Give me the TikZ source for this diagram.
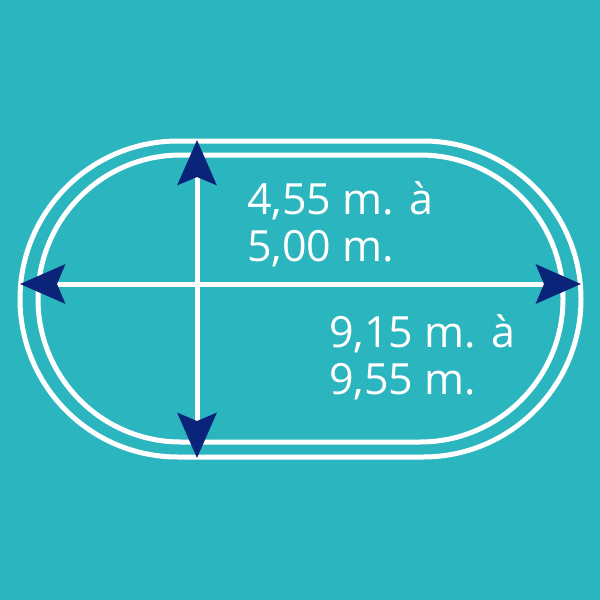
\documentclass[tikz,border=0pt]{standalone}
\usepackage{fontspec}
\setmainfont{Open Sans}
\usetikzlibrary{arrows.meta}
\definecolor{bgteal}{RGB}{43,181,191}
\definecolor{navyarrow}{RGB}{10,36,122}
\tikzset{
  track/.style={draw=white, line width=5pt},
  dimarrow/.style={draw=white, line width=5pt,
    {Stealth[length=45pt,width=39pt,inset=8pt,color=navyarrow,fill=navyarrow]}-{Stealth[length=45pt,width=39pt,inset=8pt,color=navyarrow,fill=navyarrow]}},
  dimlabel/.style={text=white, font=\fontsize{43}{47}\selectfont, align=left, inner sep=0pt, anchor=base west}
}
\begin{document}
\begin{tikzpicture}[x=1pt,y=-1pt]
\useasboundingbox (0,0) rectangle (600,600);
\fill[bgteal] (0,0) rectangle (600,600);
\draw[track, rounded corners=158pt] (20,141) rectangle (581,457);
\draw[track, rounded corners=143pt] (38,155) rectangle (563,442);
\coordinate (L) at (20,284);
\coordinate (R) at (581,284);
\coordinate (T) at (197,140);
\coordinate (B) at (197,458);
\draw[dimarrow] (L) -- (R);
\draw[dimarrow] (T) -- (B);
\node[dimlabel] (w) at (247,261) {4,55 m. à\\5,00 m.};
\node[dimlabel] (l) at (329,394) {9,15 m. à\\9,55 m.};
\end{tikzpicture}
\end{document}
